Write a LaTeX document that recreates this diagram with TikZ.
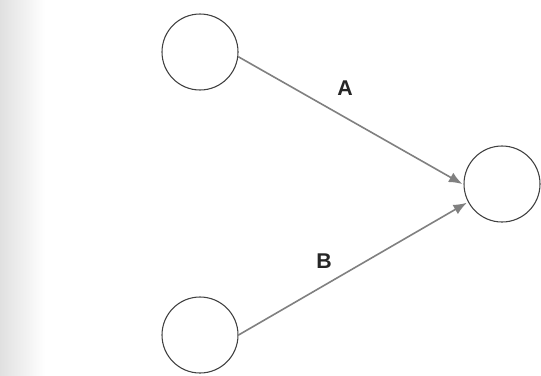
\documentclass[tikz,border=0pt]{standalone}
\usepackage{fontspec}
\setmainfont{Liberation Sans}
\usetikzlibrary{arrows.meta}
\begin{document}
\begin{tikzpicture}[x=0.75pt,y=-0.75pt,
  state/.style={circle,draw=black!75,line width=0.8pt,minimum size=57pt,inner sep=0pt},
  flow/.style={draw=black!50,line width=1.2pt,-{Latex[length=10pt,width=8pt]},shorten >=1pt},
  lbl/.style={font=\fontsize{16}{19}\selectfont\bfseries,text=black!85,inner sep=0pt}]
\useasboundingbox (0,0) rectangle (541,375);
\fill[white] (0,0) rectangle (541,375);
\shade[left color=black!12,right color=white] (0,0) rectangle (45,375);
\node[state] (s1) at (200,52) {};
\node[state] (s3) at (502,184) {};
\node[state] (s2) at (200,335) {};
\draw[flow] (s1.-7) -- (s3.181);
\draw[flow] (s2.0) -- (s3.208);
\node[lbl] (la) at (345,88) {A};
\node[lbl] (lb) at (324,261) {B};
\end{tikzpicture}
\end{document}
